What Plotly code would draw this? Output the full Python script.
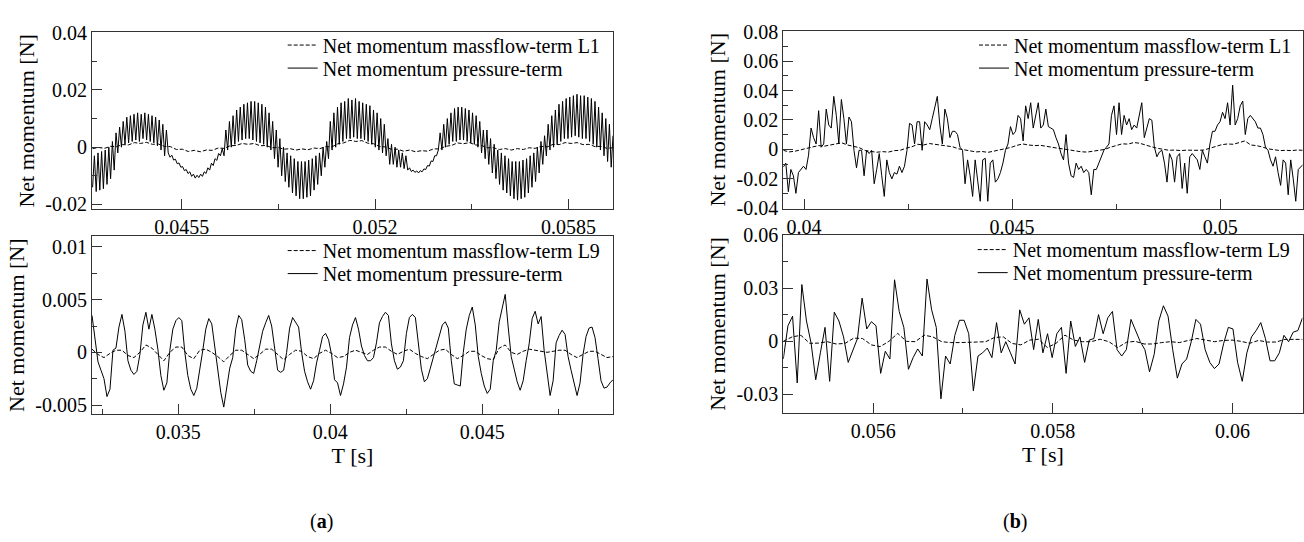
import numpy as np
import plotly.graph_objects as go

FONT = "Liberation Serif"

# ---------------- DATA ----------------
# (a) top : L1, time window
a_top_t_start, a_top_t_end = 0.0425, 0.0600
a_top_pressure = [
    -0.014, -0.003, -0.0155, -0.002, -0.015, -0.0015, -0.0145, -0.001, -0.013, 0.0, -0.011, 0.002, -0.008, 0.005,
    -0.002, 0.007, 0.0, 0.009, 0.001, 0.0105, 0.0015, 0.011, 0.002, 0.0115, 0.0025, 0.012, 0.002, 0.0115,
    0.003, 0.012, 0.0025, 0.0115, 0.002, 0.011, 0.0015, 0.0105, 0.0005, 0.0095, -0.001, 0.008, -0.003, 0.006,
    -0.002, -0.0035, -0.0028, -0.0045, -0.0042, -0.0058, -0.0055, -0.007, -0.0068, -0.0082, -0.0078, -0.0092,
    -0.0086, -0.0102, -0.0094, -0.0108, -0.0098, -0.0106, -0.0094, -0.0102, -0.0086, -0.0092, -0.0072, -0.0080,
    -0.0056, -0.0064, -0.0040, -0.0046, -0.0022, -0.0030, -0.0005,
    -0.003, 0.006, -0.001, 0.009, 0.0, 0.011, 0.001, 0.013, 0.002, 0.014, 0.0025, 0.015, 0.003, 0.0155,
    0.003, 0.016, 0.0025, 0.016, 0.002, 0.0155, 0.0015, 0.015, 0.001, 0.014, 0.0, 0.012, -0.001,
    0.009, -0.004, 0.006, -0.007, 0.003, -0.01, 0.0, -0.012, -0.002, -0.014, -0.003, -0.016, -0.004, -0.017,
    -0.005, -0.018, -0.005, -0.018, -0.005, -0.0175, -0.0045, -0.017, -0.004, -0.015, -0.003, -0.013, -0.002,
    -0.01, 0.0, -0.007, 0.002, -0.004,
    0.009, -0.001, 0.012, 0.0, 0.014, 0.001, 0.0155, 0.002, 0.016, 0.003, 0.017, 0.003, 0.0165, 0.0035,
    0.017, 0.003, 0.016, 0.003, 0.0155, 0.0025, 0.015, 0.002, 0.0145, 0.001, 0.013, 0.0, 0.012, -0.001,
    0.010, -0.002, 0.008, -0.003,
    0.003, -0.006, 0.001, -0.006, 0.0, -0.007, -0.001, -0.007, -0.002, -0.0075, -0.003, -0.008,
    -0.0072, -0.0085, -0.0080, -0.0088, -0.0083, -0.0090, -0.0082, -0.0086, -0.0076, -0.0078, -0.0064,
    -0.0066, -0.0048, -0.0050, -0.0030, -0.0030, -0.0010,
    0.005, -0.001, 0.008, 0.0, 0.010, 0.001, 0.012, 0.002, 0.0135, 0.002, 0.014, 0.0025, 0.014, 0.0025,
    0.0135, 0.002, 0.013, 0.0015, 0.012, 0.001, 0.011, 0.0, 0.009, -0.002, 0.006, -0.004,
    0.006, -0.006, 0.003, -0.009, 0.001, -0.011, -0.001, -0.013, -0.002, -0.015, -0.003, -0.016, -0.004,
    -0.017, -0.005, -0.018, -0.005, -0.0185, -0.005, -0.018, -0.0045, -0.0175, -0.004, -0.016, -0.003,
    -0.014, -0.002, -0.012, 0.0, -0.009, 0.002, -0.006, 0.004, -0.003,
    0.008, -0.001, 0.011, 0.0, 0.013, 0.001, 0.015, 0.002, 0.016, 0.003, 0.017, 0.003, 0.0175, 0.0035,
    0.018, 0.004, 0.0185, 0.0035, 0.018, 0.003, 0.018, 0.003, 0.0175, 0.002, 0.017, 0.001, 0.016, 0.0,
    0.014, -0.001, 0.012, -0.003, 0.010, -0.005, 0.008, -0.007, 0.004,
]
a_top_massflow = [
    -0.0005, -0.0001, -0.0004, 0.0003, 0.0002, 0.0009, 0.0008, 0.0016, 0.0013, 0.0017, 0.001, 0.0011,
    0.0003, 0.0002, -0.0008, -0.0007, -0.0015, -0.0011, -0.0016, -0.001, -0.0011, -0.0003, -0.0004, 0.0005,
    0.0006, 0.0013, 0.001, 0.0013, 0.0005, 0.0006, -0.0002, -0.0001, -0.0007, -0.0005, -0.001, -0.0006,
    -0.0009, -0.0003, -0.0005, 0.0002, 0.0001, 0.0012, 0.0015, 0.0024, 0.002, 0.0023, 0.0014, 0.0012,
    0.0002, 0.0001, -0.0008, -0.0007, -0.0014, -0.001, -0.0016, -0.0012, -0.0014, -0.0006, -0.0006, 0.0003,
    0.0006, 0.0015, 0.0012, 0.0016, 0.0008, 0.0006, -0.0002, -0.0002, -0.0008, -0.0005, -0.001, -0.0005,
    -0.0008, -0.0002, -0.0004, 0.0003, 0.0001, 0.0010, 0.0009, 0.0016, 0.0013, 0.0016, 0.0009, 0.001,
    0.0002, 0.0003, -0.0004, -0.0002,
]

# (a) bottom : L9
a_bot_t_start, a_bot_t_end = 0.03216, 0.0493
a_bot_pressure = [
    0.0035, 0.0015, -0.0009, -0.0017, -0.0025, -0.0042, -0.0035, 0.0002, 0.0004, 0.0024,
    0.0036, 0.002, -0.0008, -0.0017, -0.0021, -0.0018, -0.0002, 0.0026, 0.0038, 0.0022,
    0.0036, 0.0022, 0.0003, -0.0022, -0.0036, -0.0029, 0.0002, 0.0022, 0.003, 0.0033,
    0.003, 0.0, -0.0022, -0.0035, -0.0041, -0.0034, -0.0018, 0.0002, 0.0022, 0.0032,
    0.0027, 0.0005, -0.002, -0.0038, -0.0052, -0.0031, -0.0015, -0.0005, 0.0022, 0.0035,
    0.0031, 0.0012, -0.0012, -0.0018, -0.002, -0.0008, 0.0006, 0.002, 0.0028, 0.0035,
    0.0025, 0.0002, -0.0017, -0.0019, -0.0017, 0.0, 0.0023, 0.0033, 0.0029, 0.0024,
    0.0, -0.0018, -0.0028, -0.0035, -0.0027, -0.001, 0.0002, 0.0015, 0.0018, 0.0012,
    -0.0002, -0.0026, -0.0029, -0.0041, -0.003, -0.0014, 0.0014, 0.0026, 0.0033, 0.0022,
    0.0006, -0.0003, -0.0008, -0.0008, -0.0005, 0.0009, 0.0028, 0.0034, 0.0038, 0.0035,
    0.0008, -0.0008, -0.0016, -0.0014, -0.0008, 0.0018, 0.0033, 0.0036, 0.0033, 0.0008,
    -0.0016, -0.0028, -0.0025, -0.0015, -0.0005, 0.0005, 0.0014, 0.0026, 0.0029, 0.0023,
    -0.0008, -0.003, -0.0031, -0.0032, 0.0, 0.0022, 0.0035, 0.0043, 0.0026, -0.0004,
    -0.002, -0.0032, -0.0039, -0.0035, -0.0008, 0.0002, 0.0029, 0.0042, 0.0055, 0.0024,
    -0.0004, -0.0016, -0.0028, -0.0036, -0.0027, -0.0008, 0.0008, 0.0032, 0.0039, 0.0027,
    0.0034, 0.0002, -0.002, -0.0041, -0.0027, 0.0009, 0.0016, 0.0021, 0.0017, -0.0004,
    -0.0017, -0.003, -0.0041, -0.0029, -0.0002, 0.0015, 0.0023, 0.0024, 0.0014, -0.0006,
    -0.0027, -0.0034, -0.0033, -0.0029, -0.0026,
]
a_bot_massflow = [
    0.0003, -0.0002, -0.0005, -0.0001, 0.0002, 0.0002, -0.0003, -0.0005, 0.0, 0.0007,
    0.0004, -0.0002, -0.0008, 0.0, 0.0005, 0.0005, -0.0003, -0.0006, 0.0002, 0.0003,
    0.0, -0.0004, -0.0009, -0.0003, 0.0002, 0.0002, -0.0002, -0.0006, -0.0002, 0.0003,
    0.0003, -0.0002, -0.0007, -0.0002, 0.0002, 0.0001, -0.0004, -0.0006, -0.0001, 0.0002,
    -0.0001, -0.0005, -0.0004, 0.0, 0.0002, 0.0, -0.0002, 0.0002, 0.0005, 0.0005,
    0.0001, -0.0002, 0.0001, 0.0003, -0.0001, -0.0004, -0.0006, -0.0002, 0.0002, 0.0003,
    -0.0002, -0.0006, -0.0003, 0.0001, 0.0001, -0.0003, -0.0006, -0.0007, 0.0004, 0.0007,
    0.0, -0.0002, 0.0001, 0.0003, 0.0002, 0.0001, 0.0, 0.0001, 0.0002, 0.0002,
    -0.0002, -0.0005, -0.0002, 0.0001, 0.0001, -0.0002, -0.0005, -0.0004,
]

# (b) top : L1
b_top_t_start, b_top_t_end = 0.0395, 0.0520
b_top_pressure = [
    -0.012, -0.0093, -0.0287, -0.0136, -0.0179, -0.0298, -0.0157, -0.0136, -0.0114, -0.0136,
    -0.0039, 0.0145, 0.008, 0.0037, 0.0263, 0.0015, 0.0037, 0.0274, 0.0166, 0.0145,
    0.036, 0.0231, 0.0037, 0.0339, 0.0209, 0.0037, 0.022, 0.0188, -0.0006, -0.0125,
    -0.0006, -0.0006, -0.0179, -0.0006, -0.0028, -0.0006, -0.0233, -0.0136, -0.0028, -0.0179,
    -0.0319, -0.0071, -0.0157, -0.02, -0.0157, -0.0168, -0.0114, -0.0157, -0.0114, -0.0006,
    0.0177, 0.0166, 0.0037, 0.0188, 0.0188, -0.0006, 0.0188, 0.0166, 0.0134, 0.0209,
    0.0296, 0.036, 0.0166, 0.0037, 0.0274, 0.0209, 0.008, 0.0123, 0.0123, 0.0101,
    0.0015, -0.0006, -0.0233, -0.0071, -0.0179, -0.0319,
    -0.0071, -0.02, -0.0352, -0.0071, -0.006, -0.0352, -0.0093, -0.0071, -0.0222, -0.02,
    -0.0157, -0.0093, -0.0006, 0.0037, 0.0155, 0.0101, 0.0123, 0.0231, 0.0209, 0.0058,
    0.0296, 0.0209, 0.0317, 0.0145, 0.0231, 0.0317, 0.0145, 0.0166, 0.0274, 0.0155,
    0.0145, 0.0134, 0.008, 0.0037, -0.0028, -0.0071, 0.0101, -0.0093, -0.0179, -0.019,
    -0.0093, -0.0136, -0.0114, -0.0157, -0.0136, -0.0157, -0.0308, -0.0136, -0.0136, -0.0093,
    -0.005, -0.0006, 0.0015, 0.0037, 0.0231, 0.0296, 0.0101, 0.0317, 0.0101, 0.0231,
    0.0166, 0.0209, 0.0134, 0.0166, 0.0145, 0.0231, 0.0317, 0.008, 0.0145, 0.0209,
    0.0198, 0.0015, -0.005, -0.0017, -0.0006, -0.0093, -0.0222, -0.0028, -0.0071, -0.0222,
    -0.005, -0.0028, -0.0265, -0.0093, -0.0298, -0.005, -0.0028, -0.005, -0.0071, -0.0136,
    -0.0006, -0.005, -0.0093, 0.0037, 0.0123, 0.0123, 0.0166, 0.0188, 0.0252, 0.0209,
    0.0317, 0.0166, 0.0436, 0.0166, 0.0209, 0.0296, 0.0328, 0.0101, 0.0209, 0.0231,
    0.0209, 0.0188, 0.0145, 0.0145, 0.0101, 0.0015, -0.0006, -0.0071, -0.0114, -0.005,
    -0.0157, -0.0244, -0.0071, -0.0093, -0.0308, -0.0071, -0.02, -0.0352, -0.0136, -0.0114,
    -0.01,
]
b_top_massflow = [
    -0.0006, -0.0017, -0.0012, -0.0002, 0.0008, 0.0018, 0.0026, 0.0022, 0.003, 0.0035,
    0.0045, 0.003, 0.0022, 0.0012, -0.0008, -0.0014, -0.0019, -0.0015, -0.0018, -0.0008,
    -0.0006, 0.0008, 0.0018, 0.0035, 0.003, 0.004, 0.0034, 0.003, 0.0024, 0.0018,
    0.0004, -0.0004, -0.0012, -0.0017, -0.0014, -0.002, -0.0012, -0.0004, 0.0002, 0.0014,
    0.0028, 0.0037, 0.003, 0.0026, 0.0028, 0.002, 0.0016, 0.0008, 0.0003, -0.0006,
    -0.001, -0.0016, -0.0018, -0.0012, -0.0008, 0.0, 0.0015, 0.0028, 0.0038, 0.0036,
    0.0047, 0.0042, 0.0028, 0.0018, 0.0008, 0.0, -0.0006, -0.0004, -0.0008, -0.0005,
    -0.0008, -0.0006, -0.0004, 0.0008, 0.0016, 0.0032, 0.0037, 0.0035, 0.0046, 0.0058,
    0.003, 0.0026, 0.0016, 0.0004, -0.0002, -0.0008, -0.0006, -0.0008, -0.0004, -0.0006,
]

# (b) bottom : L9
b_bot_t_start, b_bot_t_end = 0.0550, 0.06078
b_bot_pressure = [
    -0.01, 0.0088, 0.0142, -0.0235, 0.0321, 0.0115, -0.0011, -0.0217, -0.0065, 0.0079,
    -0.0226, 0.0165, 0.0115, 0.0025, -0.0119, -0.0047, 0.0016, 0.0244, 0.007, 0.0111,
    0.0088, -0.0181, -0.0056, -0.01, 0.0348, 0.0169, 0.0079, -0.0158, -0.0092, -0.0043,
    -0.0083, 0.0352, 0.0178, 0.0079, -0.0325, -0.0083, -0.0128, 0.0034, 0.0119, 0.0119,
    0.0043, -0.028,
    -0.0083, -0.0065, -0.0038, -0.0092, 0.0106, -0.0065, -0.0002, -0.0065, -0.0128, 0.0178,
    0.0097, 0.0133, -0.0047, 0.0124, -0.0065, 0.0043, -0.0092, 0.0043, 0.0079, -0.0181,
    0.0115, -0.0029, 0.0025, -0.0119, 0.0007, 0.0016, 0.0151, 0.0043, 0.0133, 0.0169,
    -0.0047, -0.0083, -0.0047, 0.0124, 0.0061, -0.0002, -0.0047, -0.0172, -0.0074, 0.0115,
    0.0201, 0.0142, -0.0047, -0.0208, -0.0128, -0.01, -0.0002, 0.0124, 0.0097, -0.0047,
    -0.0119, -0.0154, -0.0128, -0.0011, 0.0079, 0.007, -0.0119, -0.0226, -0.0065, 0.0025,
    0.0061, 0.0106, 0.0016, -0.011, -0.011, -0.0065, 0.0034, -0.0002, 0.0052, 0.0061,
    0.0133,
]
b_bot_massflow = [
    0.0, 0.0025, 0.0034, -0.0011, -0.001, -0.0002, -0.0015, -0.0012, 0.0018, 0.0016,
    -0.002, -0.003, 0.0, 0.0045, 0.0, -0.0002, 0.0035, 0.0025, -0.0002, -0.0007,
    -0.0007, -0.0007, -0.0004, -0.0002, 0.0022, 0.0025, -0.0012, -0.002, 0.0007, 0.0012,
    -0.0035, -0.0011, 0.0035, 0.0007, -0.0002, -0.0002, 0.0012, -0.0002, -0.0035, -0.0005,
    0.0, -0.0015, -0.0015, -0.0007, -0.0002, -0.0007, 0.0004, 0.0016, 0.0007, -0.0002,
    0.0005, 0.0007, 0.0, -0.0011, 0.0005, -0.0004, -0.0004, 0.0011, 0.0011, 0.0011,
]

# tick labels
a_top_xticks = [0.0455, 0.052, 0.0585]
a_top_xminor = [0.04875, 0.05525]
a_top_yticks = [-0.02, 0, 0.02, 0.04]
a_top_yticktext = ["-0.02", "0", "0.02", "0.04"]
a_top_yminor = [-0.01, 0.01, 0.03]

a_bot_xticks = [0.035, 0.04, 0.045]
a_bot_xminor = [0.0325, 0.0375, 0.0425, 0.0475]
a_bot_yticks = [-0.005, 0, 0.005, 0.01]
a_bot_yticktext = ["-0.005", "0", "0.005", "0.01"]
a_bot_yminor = [-0.0025, 0.0025, 0.0075]

b_top_xticks = [0.04, 0.045, 0.05]
b_top_xminor = [0.0425, 0.0475]
b_top_yticks = [-0.04, -0.02, 0, 0.02, 0.04, 0.06, 0.08]
b_top_yticktext = ["-0.04", "-0.02", "0", "0.02", "0.04", "0.06", "0.08"]
b_top_yminor = [-0.03, -0.01, 0.01, 0.03, 0.05, 0.07]

b_bot_xticks = [0.056, 0.058, 0.06]
b_bot_xminor = [0.057, 0.059]
b_bot_yticks = [-0.03, 0, 0.03, 0.06]
b_bot_yticktext = ["-0.03", "0", "0.03", "0.06"]
b_bot_yminor = [-0.015, 0.015, 0.045]

name_mass_L1 = "Net momentum massflow-term L1"
name_mass_L9 = "Net momentum massflow-term L9"
name_press = "Net momentum pressure-term"

# ---------------- FIGURE ----------------
W, H = 1304, 542
def px(x): return x / W
def py(y): return 1 - y / H

fig = go.Figure()

def tgrid(t0, t1, vals):
    return np.linspace(t0, t1, len(vals))

panels = [
    ("", a_top_t_start, a_top_t_end, a_top_massflow, a_top_pressure, name_mass_L1, ("legend", "legend2")),
    ("2", a_bot_t_start, a_bot_t_end, a_bot_massflow, a_bot_pressure, name_mass_L9, ("legend3", "legend4")),
    ("3", b_top_t_start, b_top_t_end, b_top_massflow, b_top_pressure, name_mass_L1, ("legend5", "legend6")),
    ("4", b_bot_t_start, b_bot_t_end, b_bot_massflow, b_bot_pressure, name_mass_L9, ("legend7", "legend8")),
]

for suf, t0, t1, mf, pr, mname, legs in panels:
    fig.add_trace(go.Scatter(
        x=tgrid(t0, t1, mf), y=mf, mode="lines", name=mname,
        line=dict(color="black", width=1, dash="4px,2px"),
        xaxis="x" + suf, yaxis="y" + suf, legend=legs[0], hoverinfo="skip"))
    fig.add_trace(go.Scatter(
        x=tgrid(t0, t1, pr), y=pr, mode="lines", name=name_press,
        line=dict(color="black", width=1),
        xaxis="x" + suf, yaxis="y" + suf, legend=legs[1], hoverinfo="skip"))

def ax(domain, rng, tickvals, ticktext, minorvals, anchor, title=None, title_size=22):
    d = dict(
        domain=domain, range=rng, anchor=anchor,
        showline=True, mirror=True, linecolor="#333", linewidth=1.2,
        showgrid=False, zeroline=False,
        tickmode="array", tickvals=tickvals, ticktext=ticktext,
        ticks="inside", ticklen=10, tickwidth=1, tickcolor="#333",
        tickfont=dict(family=FONT, size=20, color="black"),
        minor=dict(tickmode="array", tickvals=minorvals, ticks="inside",
                   ticklen=5, tickwidth=1, tickcolor="#333", showgrid=False),
    )
    if title:
        d["title"] = dict(text=title, font=dict(family=FONT, size=title_size, color="black"), standoff=4)
    return d

xa_left = [px(92), px(613)]
xa_right = [px(783.3), px(1302.5)]
ya_top_a = [py(206.7), py(22.3)]
ya_bot_a = [py(420), py(235)]
ya_top_b = [py(206), py(20.7)]
ya_bot_b = [py(419), py(233.3)]

fig.update_layout(
    xaxis=ax(xa_left, [0.04248, 0.0600], a_top_xticks, [str(v) for v in a_top_xticks], a_top_xminor, "y"),
    yaxis=ax(ya_top_a, [-0.0217, 0.0401], a_top_yticks, a_top_yticktext, a_top_yminor, "x", "Net momentum [N]"),
    xaxis2=ax(xa_left, [0.03216, 0.0493], a_bot_xticks, [str(v) for v in a_bot_xticks], a_bot_xminor, "y2", "T [s]"),
    yaxis2=ax(ya_bot_a, [-0.00585, 0.011], a_bot_yticks, a_bot_yticktext, a_bot_yminor, "x2", "Net momentum [N]"),
    xaxis3=ax(xa_right, [0.0395, 0.05198], b_top_xticks, [str(v) for v in b_top_xticks], b_top_xminor, "y3"),
    yaxis3=ax(ya_top_b, [-0.0402, 0.0805], b_top_yticks, b_top_yticktext, b_top_yminor, "x3", "Net momentum [N]"),
    xaxis4=ax(xa_right, [0.0550, 0.06078], b_bot_xticks, [str(v) for v in b_bot_xticks], b_bot_xminor, "y4", "T [s]"),
    yaxis4=ax(ya_bot_b, [-0.0405, 0.0602], b_bot_yticks, b_bot_yticktext, b_bot_yminor, "x4", "Net momentum [N]"),
)

leg_font = dict(family=FONT, size=20, color="black")
leg_pos = {
    "legend": (282.7, 35.5), "legend2": (282.7, 59.5),
    "legend3": (282.7, 249.7), "legend4": (282.7, 273.7),
    "legend5": (974, 35.5), "legend6": (974, 59.5),
    "legend7": (972.7, 248.7), "legend8": (972.7, 272.7),
}
for k, (lx, ly) in leg_pos.items():
    fig.update_layout({k: dict(x=px(lx), y=py(ly), xanchor="left", yanchor="middle",
                               bgcolor="rgba(0,0,0,0)", borderwidth=0, font=leg_font,
                               itemwidth=30, tracegroupgap=0)})

fig.add_annotation(x=px(321.7), y=py(532), xref="paper", yref="paper", text="(<b>a</b>)",
                   showarrow=False, font=dict(family=FONT, size=20, color="black"),
                   xanchor="center", yanchor="middle")
fig.add_annotation(x=px(1015), y=py(532), xref="paper", yref="paper", text="(<b>b</b>)",
                   showarrow=False, font=dict(family=FONT, size=20, color="black"),
                   xanchor="center", yanchor="middle")

fig.update_layout(
    width=W, height=H, margin=dict(l=0, r=0, t=0, b=0),
    paper_bgcolor="white", plot_bgcolor="white", showlegend=True,
    font=dict(family=FONT, color="black"),
)

fig.write_html("out.html", config={"displayModeBar": False})
